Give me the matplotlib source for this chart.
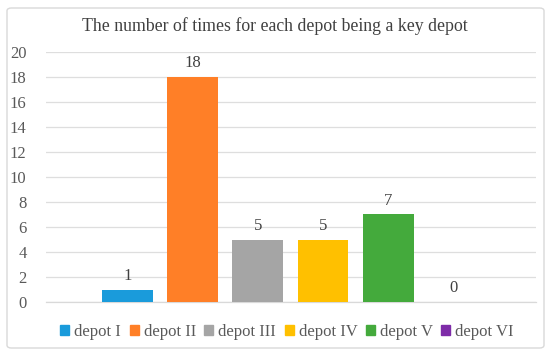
import matplotlib
matplotlib.use("Agg")
import matplotlib.pyplot as plt
from matplotlib.patches import FancyBboxPatch

depots = ["depot I", "depot II", "depot III", "depot IV", "depot V", "depot VI"]
counts = [1, 18, 5, 5, 7, 0]
colors = ["#1A9BDB", "#FF7F27", "#A5A5A5", "#FFC000", "#44AA3C", "#7E2CA8"]
yticks = list(range(0, 21, 2))
title = "The number of times for each depot being a key depot"

plt.rcParams['font.family'] = ['Liberation Serif', 'DejaVu Serif']
txt = "#595959"

fig = plt.figure(figsize=(5.5, 3.56), dpi=100)
fig.patch.set_facecolor("white")
border = FancyBboxPatch((7/550, 8/356), (544-7)/550, (348-8)/356,
                        boxstyle="round,pad=0,rounding_size=0.008",
                        transform=fig.transFigure, facecolor="none",
                        edgecolor="#D9D9D9", linewidth=1.0, zorder=-1)
fig.patches.append(border)

ax = fig.add_axes([46/550, 1-302/356, (536-46)/550, (302-52)/356])
ax.set_facecolor("none")
xs = list(range(len(depots)))
bars = ax.bar(xs, counts, width=0.78, color=colors, label=depots, zorder=3)
for x, v in zip(xs, counts):
    ax.annotate(str(v), (x, v), xytext=(0, 4), textcoords="offset points",
                ha="center", va="bottom", fontsize=12, color="#404040")

ax.set_xlim(-1.25, 6.27)
ax.set_ylim(0, 20)
ax.set_yticks(yticks)
ax.set_xticks([])
ax.yaxis.grid(True, color="#DEDEDE", linewidth=0.9, zorder=0)
for s in ["top", "right", "left"]:
    ax.spines[s].set_visible(False)
ax.spines["bottom"].set_color("#D9D9D9")
ax.spines["bottom"].set_linewidth(0.9)
ax.tick_params(axis="y", length=0, labelsize=12, labelcolor=txt, pad=14)

fig.text(0.5, 1-26/356, title, ha="center", va="center", fontsize=12.8, color="#404040")

handles = [plt.Rectangle((0, 0), 1, 1, color=c) for c in colors]
fig.legend(handles, depots, loc="center", bbox_to_anchor=(0.522, 1-332/356),
           ncol=6, frameon=False, fontsize=12, handlelength=0.55, handleheight=0.55,
           handletextpad=0.3, columnspacing=0.5, labelcolor=txt)

fig.savefig("out.png", dpi=100)
